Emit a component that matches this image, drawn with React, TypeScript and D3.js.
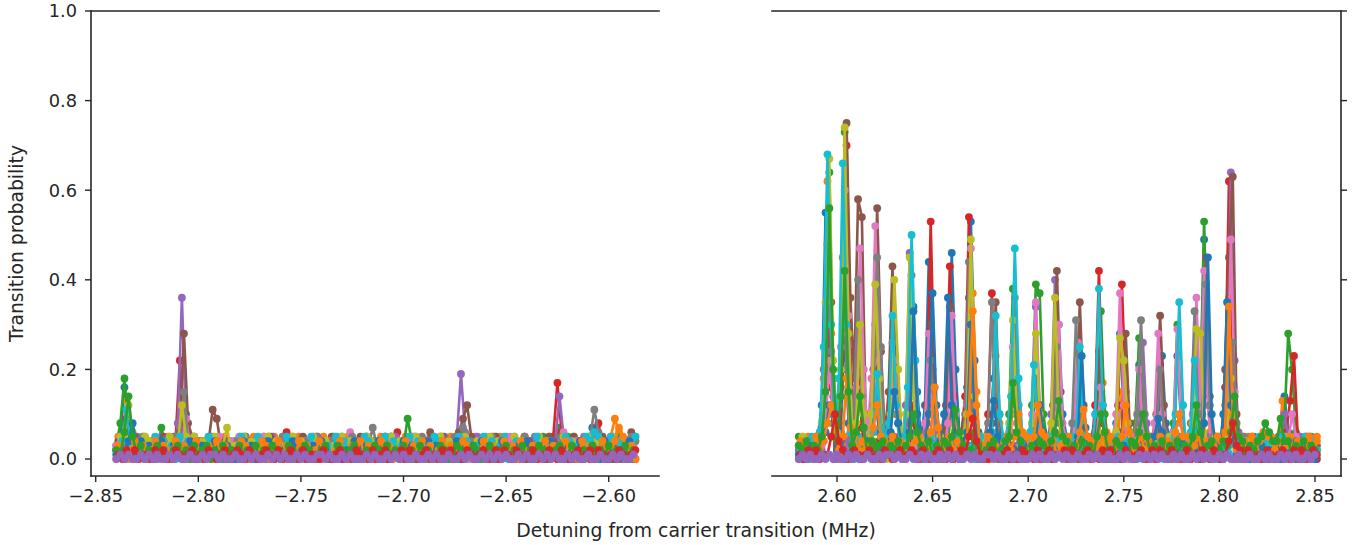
import React from "react";
import * as d3 from "d3";

// tab10 colour cycle, as used by the plotting library
const palette = ["#1f77b4", "#ff7f0e", "#2ca02c", "#d62728", "#9467bd", "#8c564b", "#e377c2", "#7f7f7f", "#bcbd22", "#17becf"];

const yTicks = [0, 0.2, 0.4, 0.6, 0.8, 1.0];
const leftTicks = [-2.85, -2.8, -2.75, -2.7, -2.65, -2.6];
const rightTicks = [2.6, 2.65, 2.7, 2.75, 2.8, 2.85];

const yLabel = "Transition probability";
const xLabel = "Detuning from carrier transition (MHz)";

// scan grid (MHz)
const step = 0.002;
const leftStart = -2.84;
const rightStart = 2.58;
const seriesShift = [0, 0.001, 0, 0.001, 0, 0.001, 0, 0.001, 0, 0.001, 0, 0.001, 0, 0.001, 0];

// background readings, one digit per scan point, in hundredths
const leftBase = [
  "2140523014 3201543102 4015220314 1320413521 2403121034 0215402312 3104230542 2031423013 4120312043 1302413201 2413023104 3021432013 1240321",
  "5314025341 2450315024 3150425130 4215304251 3042513402 5130425314 0241530412 5304215340 2513042531 4025130425 3140253104 2531402513 4052314",
  "3042153024 1530241350 2415302413 5024135021 4350214305 2140352413 0524130524 3150241305 4213052431 0352140523 1403521430 5214035241 3052140",
  "1324031420 3142013240 1423012403 2140312043 1203421034 2013420132 4031240213 0423102341 2031420312 4012340213 0421302413 2031402134 0213420",
  "2413052413 0524130425 1304251340 2513042153 0425130245 1302451302 4513024153 0425130241 5302413052 4130254130 2451302541 3024513024 1530241",
  "4031524031 2504132051 4302514032 1504231502 4130251403 2150432015 3402150413 0251430215 0432150341 2051432015 4302154031 2504132051 4302150",
  "3520413520 4135024135 2041352041 5320415302 4135024153 0241530241 3502413520 4153024135 0241350241 5302415302 4135204135 0241350241 3502413",
  "1403215403 2140532140 3215403214 0532140321 5403214053 2140321540 3214053214 0321540321 4053214032 1540321405 3214032154 0321405321 4032154",
  "0524301542 3105243015 2430512403 1524031524 3105243051 2403152430 1542301524 3015420315 2430152043 1524310524 3015243105 2430152403 1524301",
  "2305142305 1423051420 3051423015 4230514203 0514230514 2305142301 5423051423 0514230541 2305142305 1423501420 3051423015 4230514230 5142305",
  "1203124031 2401320142 0312401320 1423012403 1204312031 4201302140 3120413021 4031204132 0214031204 1320412031 4012304123 0214013204 1302140",
  "3102413024 1302413204 1032413021 4302143024 1320413024 3102410324 1302413021 4032413024 1302431024 1320413042 1302413024 3104230241 3024130",
  "2130213021 3201231203 1230213021 3021302132 0132013201 2301320231 0213203120 3120312013 2013201320 1302130213 0213201230 1320213021 3021302",
  "1021201102 1201210120 1021012012 1021012102 0121020110 2101201021 1020120112 0210120102 1201021012 0120210210 1201021021 0120120210 1021012",
  "0101001010 1001010010 0101101001 0010100101 0100101001 1010010100 0101001010 1001001010 0100101001 0101010010 1001010100 1010010010 0101001",
];

const rightBase = [
  "3021402513 2014320412 5031204213 0241352014 2301420312 4021350214 1320412031 5420130241 3102450312 0413210524 1302401324 2013420135 2410320142 013250",
  "4251340524 1350425134 0534215043 2540315243 0514325041 3524051342 5041325403 1524305142 3054213504 2150435214 0352415034 2513042531 4025130425 314025",
  "5342153024 4530241352 3415302453 5024135324 4350214345 2143352413 3524130524 5350241345 4213052434 3352140523 4403521435 5214035244 3052145342 153042",
  "1324031420 3142013240 1423012403 2140312043 1203421034 2013420132 4031240213 0423102341 2031420312 4012340213 0421302413 2031402134 0213420312 403120",
  "2413052413 0524130425 1304251340 2513042153 0425130245 1302451302 4513024153 0425130241 5302413052 4130254130 2451302541 3024513024 1530241302 451302",
  "4031524031 2504132051 4302514032 1504231502 4130251403 2150432015 3402150413 0251430215 0432150341 2051432015 4302154031 2504132051 4302150413 025143",
  "3520413520 4135024135 2041352041 5320415302 4135024153 0241530241 3502413520 4153024135 0241350241 5302415302 4135204135 0241350241 3502413520 413502",
  "1403215403 2140532140 3215403214 0532140321 5403214053 2140321540 3214053214 0321540321 4053214032 1540321405 3214032154 0321405321 4032154032 140532",
  "0524301542 3105243015 2430512403 1524031524 3105243051 2403152430 1542301524 3015420315 2430152043 1524310524 3015243105 2430152403 1524301542 310524",
  "2305142305 1423051420 3051423015 4230514203 0514230514 2305142301 5423051423 0514230541 2305142305 1423501420 3051423015 4230514230 5142305142 305142",
  "1203124031 2401320142 0312401320 1423012403 1204312031 4201302140 3120413021 4031204132 0214031204 1320412031 4012304123 0214013204 1302140312 401320",
  "4312524134 2513524235 1343524132 4532354135 2431524235 4312521435 2513524132 5134524135 2513542135 2431524153 2513524135 4315234152 4135241352 413524",
  "3241324132 4312342314 2341324132 4132413243 1243124312 3412431342 1324314231 4231423124 3124312431 2413241324 1324312341 2431324132 4132413241 324132",
  "1021201102 1201210120 1021012012 1021012102 0121020110 2101201021 1020120112 0210120102 1201021012 0120210210 1201021021 0120120210 1021012102 120121",
  "0101001010 1001010010 0101101001 0010100101 0100101001 1010010100 0101001010 1001001010 0100101001 0101010010 1001010100 1010010010 0101001010 100101",
];

// resonances: [series, detuning of first value (MHz), values]
const leftPeaks: [number, number, number[]][] = [
  [0, -2.838, [0.05, 0.16, 0.06]],
  [2, -2.838, [0.08, 0.18, 0.07]],
  [12, -2.836, [0.06, 0.14, 0.05]],
  [1, -2.837, [0.05, 0.13, 0.04]],
  [9, -2.837, [0.04, 0.11, 0.03]],
  [8, -2.836, [0.05, 0.12, 0.06]],
  [10, -2.834, [0.04, 0.08, 0.03]],
  [5, -2.837, [0.03, 0.09, 0.04]],
  [4, -2.81, [0.08, 0.36, 0.07]],
  [5, -2.809, [0.06, 0.28, 0.08]],
  [3, -2.811, [0.05, 0.22, 0.05]],
  [7, -2.809, [0.05, 0.15, 0.04]],
  [8, -2.81, [0.04, 0.12, 0.05]],
  [0, -2.808, [0.03, 0.1, 0.04]],
  [6, -2.808, [0.04, 0.09, 0.03]],
  [1, -2.811, [0.04, 0.07, 0.03]],
  [2, -2.819, [0.02, 0.07, 0.03]],
  [5, -2.795, [0.04, 0.11, 0.09, 0.03]],
  [8, -2.788, [0.03, 0.07, 0.02]],
  [9, -2.781, [0.02, 0.05, 0.03]],
  [3, -2.759, [0.03, 0.06, 0.02]],
  [6, -2.728, [0.02, 0.06, 0.03]],
  [7, -2.717, [0.03, 0.07, 0.03]],
  [3, -2.705, [0.03, 0.06, 0.02]],
  [2, -2.7, [0.03, 0.09, 0.04]],
  [5, -2.689, [0.03, 0.06, 0.02]],
  [4, -2.674, [0.05, 0.19, 0.06]],
  [5, -2.673, [0.06, 0.09, 0.12, 0.05]],
  [7, -2.673, [0.03, 0.07, 0.04]],
  [1, -2.675, [0.03, 0.06, 0.02]],
  [3, -2.627, [0.05, 0.17, 0.06]],
  [4, -2.626, [0.04, 0.14, 0.05]],
  [2, -2.626, [0.03, 0.07, 0.03]],
  [6, -2.624, [0.03, 0.06, 0.02]],
  [0, -2.61, [0.03, 0.07, 0.04]],
  [7, -2.609, [0.05, 0.11, 0.06]],
  [3, -2.607, [0.04, 0.08, 0.03]],
  [9, -2.609, [0.04, 0.06, 0.05]],
  [1, -2.599, [0.05, 0.09, 0.06]],
  [11, -2.597, [0.04, 0.07, 0.05]],
  [5, -2.591, [0.04, 0.06, 0.05]],
];

const rightPeaks: [number, number, number[]][] = [
  [9, 2.591, [0.06, 0.25, 0.68, 0.3, 0.08]],
  [0, 2.59, [0.05, 0.12, 0.55, 0.32, 0.1]],
  [1, 2.591, [0.05, 0.18, 0.62, 0.28, 0.06]],
  [7, 2.591, [0.06, 0.2, 0.48, 0.24, 0.05]],
  [3, 2.593, [0.12, 0.3, 0.16]],
  [8, 2.592, [0.08, 0.35, 0.67, 0.22, 0.06]],
  [2, 2.592, [0.06, 0.22, 0.64, 0.18, 0.05]],
  [12, 2.592, [0.05, 0.15, 0.56, 0.2]],
  [4, 2.594, [0.12, 0.4, 0.14]],
  [5, 2.595, [0.2, 0.35, 0.1]],
  [6, 2.594, [0.08, 0.22, 0.1]],
  [10, 2.594, [0.06, 0.12, 0.08]],
  [11, 2.595, [0.08, 0.12, 0.06]],
  [13, 2.597, [0.05, 0.1, 0.04]],

  [5, 2.601, [0.08, 0.3, 0.75, 0.36, 0.08]],
  [8, 2.6, [0.06, 0.2, 0.74, 0.28, 0.06]],
  [2, 2.6, [0.05, 0.16, 0.73, 0.3, 0.06]],
  [3, 2.601, [0.05, 0.2, 0.7, 0.24, 0.06]],
  [9, 2.599, [0.05, 0.18, 0.66, 0.3, 0.06]],
  [6, 2.6, [0.06, 0.25, 0.6, 0.32, 0.06]],
  [7, 2.601, [0.12, 0.45, 0.2]],
  [12, 2.602, [0.14, 0.42, 0.15]],
  [0, 2.602, [0.06, 0.3, 0.08]],
  [11, 2.603, [0.05, 0.18, 0.07]],

  [5, 2.609, [0.18, 0.58, 0.54, 0.1]],
  [6, 2.608, [0.06, 0.16, 0.47, 0.2, 0.05]],
  [7, 2.609, [0.12, 0.4, 0.14]],
  [8, 2.61, [0.08, 0.3, 0.1]],
  [4, 2.61, [0.08, 0.28, 0.1]],
  [3, 2.609, [0.06, 0.2, 0.07]],
  [12, 2.61, [0.06, 0.14, 0.07]],

  [5, 2.617, [0.06, 0.2, 0.56, 0.24, 0.06]],
  [6, 2.616, [0.05, 0.18, 0.52, 0.22, 0.06]],
  [7, 2.619, [0.12, 0.45, 0.25]],
  [8, 2.618, [0.1, 0.39, 0.18]],
  [4, 2.618, [0.08, 0.3, 0.1]],
  [9, 2.619, [0.06, 0.19, 0.07]],
  [0, 2.618, [0.04, 0.14, 0.06]],
  [11, 2.619, [0.07, 0.12, 0.05]],

  [5, 2.625, [0.05, 0.15, 0.43, 0.18, 0.05]],
  [8, 2.628, [0.1, 0.4, 0.2]],
  [9, 2.627, [0.08, 0.32, 0.12]],
  [0, 2.628, [0.06, 0.2, 0.08]],
  [6, 2.628, [0.06, 0.22, 0.1]],
  [7, 2.627, [0.06, 0.26, 0.1]],
  [10, 2.628, [0.06, 0.15, 0.08]],

  [9, 2.635, [0.05, 0.16, 0.5, 0.22, 0.05]],
  [4, 2.636, [0.12, 0.46, 0.15]],
  [8, 2.636, [0.1, 0.45, 0.14]],
  [7, 2.637, [0.1, 0.41, 0.15]],
  [0, 2.638, [0.08, 0.34, 0.15]],
  [10, 2.638, [0.06, 0.33, 0.1]],
  [3, 2.637, [0.04, 0.12, 0.05]],
  [12, 2.638, [0.05, 0.1, 0.06]],

  [3, 2.645, [0.05, 0.12, 0.53, 0.16, 0.05]],
  [0, 2.646, [0.12, 0.44, 0.2]],
  [10, 2.648, [0.1, 0.37, 0.12]],
  [5, 2.647, [0.08, 0.3, 0.1]],
  [6, 2.646, [0.08, 0.28, 0.1]],
  [1, 2.647, [0.06, 0.13, 0.06]],
  [7, 2.647, [0.06, 0.22, 0.1]],
  [11, 2.649, [0.06, 0.16, 0.07]],

  [0, 2.656, [0.05, 0.14, 0.46, 0.2, 0.06]],
  [3, 2.657, [0.12, 0.43, 0.14]],
  [10, 2.656, [0.1, 0.36, 0.12]],
  [5, 2.657, [0.08, 0.34, 0.1]],
  [6, 2.658, [0.08, 0.32, 0.1]],
  [1, 2.657, [0.08, 0.22, 0.08]],
  [2, 2.658, [0.04, 0.12, 0.05]],
  [12, 2.66, [0.05, 0.11, 0.06]],

  [3, 2.665, [0.05, 0.14, 0.54, 0.18, 0.05]],
  [0, 2.666, [0.05, 0.16, 0.53, 0.22, 0.06]],
  [8, 2.668, [0.1, 0.49, 0.14]],
  [6, 2.668, [0.12, 0.47, 0.15]],
  [7, 2.667, [0.1, 0.44, 0.12]],
  [1, 2.669, [0.12, 0.37, 0.15]],
  [11, 2.669, [0.1, 0.33, 0.12]],
  [5, 2.667, [0.08, 0.36, 0.1]],
  [10, 2.668, [0.06, 0.3, 0.1]],
  [2, 2.668, [0.05, 0.15, 0.06]],
  [13, 2.669, [0.05, 0.09, 0.04]],

  [3, 2.679, [0.1, 0.37, 0.12]],
  [7, 2.679, [0.08, 0.35, 0.1]],
  [5, 2.681, [0.08, 0.35, 0.1]],
  [9, 2.681, [0.06, 0.32, 0.1]],
  [1, 2.681, [0.06, 0.23, 0.08]],
  [0, 2.68, [0.05, 0.18, 0.06]],
  [10, 2.68, [0.06, 0.13, 0.05]],

  [9, 2.689, [0.05, 0.14, 0.47, 0.18, 0.05]],
  [2, 2.69, [0.1, 0.38, 0.12]],
  [7, 2.691, [0.1, 0.36, 0.12]],
  [8, 2.69, [0.08, 0.31, 0.1]],
  [6, 2.69, [0.06, 0.25, 0.08]],
  [1, 2.691, [0.06, 0.22, 0.06]],
  [12, 2.69, [0.05, 0.17, 0.06]],
  [11, 2.693, [0.05, 0.1, 0.06]],

  [2, 2.702, [0.12, 0.39, 0.37, 0.1]],
  [6, 2.702, [0.1, 0.35, 0.12]],
  [4, 2.702, [0.08, 0.34, 0.1]],
  [8, 2.702, [0.08, 0.28, 0.1]],
  [9, 2.701, [0.06, 0.21, 0.08]],
  [0, 2.702, [0.05, 0.18, 0.06]],
  [11, 2.703, [0.05, 0.12, 0.06]],
  [10, 2.704, [0.05, 0.12, 0.06]],

  [5, 2.713, [0.12, 0.42, 0.15]],
  [4, 2.712, [0.1, 0.4, 0.12]],
  [8, 2.712, [0.08, 0.36, 0.1]],
  [0, 2.714, [0.08, 0.3, 0.1]],
  [6, 2.714, [0.06, 0.3, 0.08]],
  [7, 2.713, [0.06, 0.25, 0.08]],
  [1, 2.713, [0.05, 0.14, 0.05]],
  [12, 2.714, [0.06, 0.13, 0.05]],

  [5, 2.725, [0.1, 0.35, 0.12]],
  [7, 2.723, [0.08, 0.31, 0.1]],
  [0, 2.724, [0.06, 0.24, 0.1]],
  [6, 2.724, [0.06, 0.26, 0.08]],
  [9, 2.725, [0.05, 0.25, 0.06]],
  [10, 2.726, [0.05, 0.23, 0.07]],
  [1, 2.725, [0.05, 0.12, 0.05]],
  [11, 2.727, [0.06, 0.11, 0.05]],

  [3, 2.735, [0.12, 0.42, 0.12]],
  [9, 2.735, [0.1, 0.38, 0.12]],
  [2, 2.736, [0.08, 0.33, 0.1]],
  [5, 2.735, [0.06, 0.24, 0.08]],
  [1, 2.737, [0.05, 0.17, 0.06]],
  [6, 2.736, [0.05, 0.16, 0.05]],
  [12, 2.736, [0.05, 0.1, 0.06]],

  [3, 2.747, [0.12, 0.39, 0.15]],
  [6, 2.746, [0.1, 0.37, 0.12]],
  [0, 2.746, [0.08, 0.28, 0.1]],
  [8, 2.746, [0.06, 0.27, 0.22, 0.08]],
  [5, 2.749, [0.06, 0.28, 0.08]],
  [1, 2.747, [0.05, 0.15, 0.07]],
  [11, 2.749, [0.05, 0.12, 0.06]],

  [7, 2.757, [0.1, 0.31, 0.1]],
  [2, 2.756, [0.08, 0.27, 0.1]],
  [4, 2.758, [0.06, 0.26, 0.08]],
  [0, 2.756, [0.06, 0.21, 0.08]],
  [6, 2.756, [0.05, 0.2, 0.06]],
  [1, 2.757, [0.04, 0.11, 0.05]],
  [12, 2.758, [0.06, 0.1, 0.05]],

  [5, 2.767, [0.1, 0.32, 0.12]],
  [6, 2.766, [0.08, 0.28, 0.1]],
  [0, 2.768, [0.06, 0.23, 0.08]],
  [3, 2.767, [0.06, 0.21, 0.06]],
  [7, 2.767, [0.05, 0.2, 0.06]],
  [10, 2.766, [0.05, 0.09, 0.06]],

  [2, 2.776, [0.08, 0.3, 0.1]],
  [9, 2.777, [0.1, 0.35, 0.12]],
  [0, 2.776, [0.06, 0.23, 0.08]],
  [6, 2.776, [0.06, 0.29, 0.08]],
  [11, 2.777, [0.06, 0.1, 0.05]],

  [6, 2.786, [0.1, 0.36, 0.12]],
  [7, 2.785, [0.08, 0.33, 0.1]],
  [8, 2.786, [0.08, 0.29, 0.28, 0.08]],
  [9, 2.785, [0.06, 0.22, 0.06]],
  [0, 2.786, [0.05, 0.1, 0.05]],
  [12, 2.786, [0.05, 0.12, 0.06]],

  [2, 2.788, [0.06, 0.15, 0.53, 0.2, 0.05]],
  [0, 2.79, [0.12, 0.49, 0.2]],
  [5, 2.791, [0.1, 0.45, 0.14]],
  [6, 2.79, [0.1, 0.42, 0.12]],
  [7, 2.791, [0.1, 0.39, 0.12]],
  [10, 2.792, [0.08, 0.45, 0.1]],
  [1, 2.791, [0.06, 0.2, 0.06]],

  [3, 2.801, [0.05, 0.16, 0.62, 0.2, 0.05]],
  [5, 2.803, [0.2, 0.45, 0.63, 0.1]],
  [4, 2.802, [0.05, 0.18, 0.64, 0.22, 0.06]],
  [6, 2.804, [0.12, 0.49, 0.15]],
  [0, 2.804, [0.14, 0.45, 0.1]],
  [1, 2.803, [0.12, 0.36, 0.12]],
  [10, 2.802, [0.1, 0.35, 0.12]],
  [11, 2.803, [0.06, 0.34, 0.1]],
  [2, 2.804, [0.06, 0.22, 0.06]],
  [7, 2.805, [0.06, 0.26, 0.08]],
  [8, 2.804, [0.05, 0.18, 0.05]],
  [12, 2.806, [0.06, 0.14, 0.05]],
  [13, 2.805, [0.04, 0.08, 0.03]],

  [11, 2.821, [0.04, 0.06, 0.05]],
  [12, 2.822, [0.05, 0.08, 0.06]],

  [0, 2.832, [0.05, 0.14, 0.06]],
  [1, 2.831, [0.04, 0.13, 0.05]],
  [4, 2.832, [0.04, 0.1, 0.05]],
  [12, 2.83, [0.04, 0.09, 0.04]],

  [2, 2.834, [0.08, 0.28, 0.2, 0.06]],
  [3, 2.835, [0.06, 0.13, 0.23, 0.05]],
  [6, 2.836, [0.04, 0.1, 0.05]],
];

type Pt = { x: number; y: number };

function buildSeries(base: string[], start: number, peaks: [number, number, number[]][]): Pt[][] {
  const all = base.map((str, s) => {
    const digits = str.replace(/\s/g, "").split("");
    return digits.map((d, i) => ({ x: start + seriesShift[s] + i * step, y: +d / 100 }));
  });
  peaks.forEach(([s, x0, vals]) => {
    const i0 = Math.round((x0 - start - seriesShift[s]) / step);
    vals.forEach((v, j) => {
      const p = all[s][i0 + j];
      if (p) p.y = v;
    });
  });
  return all;
}

const leftSeries = buildSeries(leftBase, leftStart, leftPeaks);
const rightSeries = buildSeries(rightBase, rightStart, rightPeaks);

const W = 1352;
const H = 545;
const top = 11;
const bottom = 476;
const ink = "#262626";
const font = "DejaVu Sans, sans-serif";

const y = d3.scaleLinear().domain([-0.0379, 1.0]).range([bottom, top]);
const xL = d3.scaleLinear().domain([-2.8523, -2.5755]).range([91, 659]);
const xR = d3.scaleLinear().domain([2.566, 2.8636]).range([772, 1341]);

const fmtX = d3.format(".2f");
const fmtY = d3.format(".1f");

function Panel({ series, x }: { series: Pt[][]; x: d3.ScaleLinear<number, number> }) {
  const line = d3
    .line<Pt>()
    .x((d) => x(d.x))
    .y((d) => y(d.y));
  return (
    <g>
      {series.map((pts, s) => {
        const c = palette[s % palette.length];
        return (
          <g key={s}>
            <path d={line(pts) || ""} fill="none" stroke={c} strokeWidth={2.6} strokeLinejoin="round" />
            {pts.map((p, i) => (
              <circle key={i} cx={x(p.x)} cy={y(p.y)} r={3.9} fill={c} />
            ))}
          </g>
        );
      })}
    </g>
  );
}

export default function App() {
  const [l0, l1] = xL.range();
  const [r0, r1] = xR.range();
  return (
    <div style={{ position: "absolute", left: 0, top: 0 }}>
      <svg width={W} height={H} style={{ display: "block", background: "#fff" }}>
        <Panel series={leftSeries} x={xL} />
        <Panel series={rightSeries} x={xR} />

        {/* spines */}
        <g stroke={ink} strokeWidth={1.6} fill="none" strokeLinecap="square">
          <line x1={l0} x2={l1} y1={top} y2={top} />
          <line x1={l0} x2={l1} y1={bottom} y2={bottom} />
          <line x1={l0} x2={l0} y1={top} y2={bottom} />
          <line x1={r0} x2={r1} y1={top} y2={top} />
          <line x1={r0} x2={r1} y1={bottom} y2={bottom} />
          <line x1={r1} x2={r1} y1={top} y2={bottom} />
        </g>

        {/* y ticks */}
        {yTicks.map((t) => (
          <g key={"y" + t}>
            <line x1={l0 - 6} x2={l0} y1={y(t)} y2={y(t)} stroke={ink} strokeWidth={1.4} />
            <line x1={r1} x2={r1 + 6} y1={y(t)} y2={y(t)} stroke={ink} strokeWidth={1.4} />
            <text x={l0 - 14} y={y(t)} dy="0.36em" textAnchor="end" fontSize={17.8} fontFamily={font} fill={ink}>
              {fmtY(t)}
            </text>
          </g>
        ))}

        {/* x ticks */}
        {leftTicks.map((t) => (
          <g key={"l" + t}>
            <line x1={xL(t)} x2={xL(t)} y1={bottom} y2={bottom + 6} stroke={ink} strokeWidth={1.4} />
            <text x={xL(t)} y={502} textAnchor="middle" fontSize={17.8} fontFamily={font} fill={ink}>
              {fmtX(t).replace("-", "\u2212")}
            </text>
          </g>
        ))}
        {rightTicks.map((t) => (
          <g key={"r" + t}>
            <line x1={xR(t)} x2={xR(t)} y1={bottom} y2={bottom + 6} stroke={ink} strokeWidth={1.4} />
            <text x={xR(t)} y={502} textAnchor="middle" fontSize={17.8} fontFamily={font} fill={ink}>
              {fmtX(t)}
            </text>
          </g>
        ))}

        <text x={696} y={537} textAnchor="middle" fontSize={18.8} fontFamily={font} fill={ink}>
          {xLabel}
        </text>
        <text
          transform={`translate(23,${(top + bottom) / 2}) rotate(-90)`}
          textAnchor="middle"
          fontSize={18.8}
          fontFamily={font}
          fill={ink}
        >
          {yLabel}
        </text>
      </svg>
    </div>
  );
}
